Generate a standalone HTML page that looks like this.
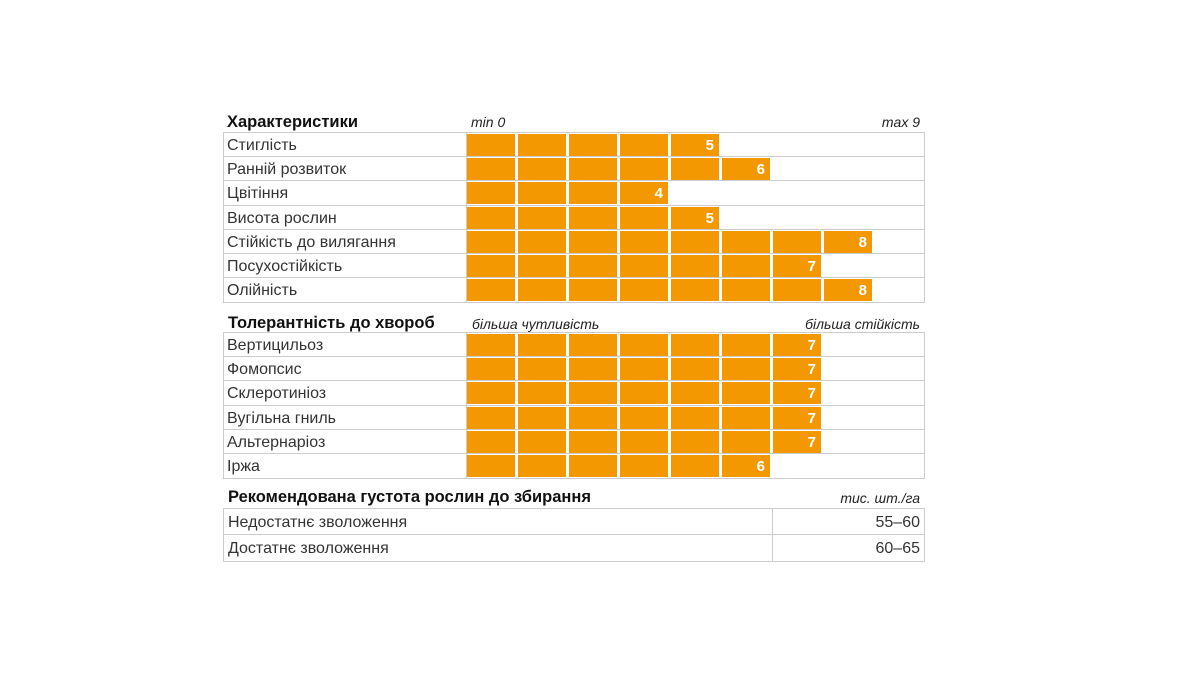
<!DOCTYPE html><html><head><meta charset="utf-8"><style>
body{margin:0;width:1200px;height:675px;background:#fff;position:relative;font-family:"Liberation Sans",sans-serif;overflow:hidden}
.a{position:absolute}
.h{font-weight:bold;font-size:16.5px;color:#111}
.i{font-style:italic;font-size:14px;color:#222}
.box{position:absolute;left:223px;width:702px;border:1px solid #ccc;box-sizing:border-box}
.r{position:relative;height:24.2px;border-bottom:1px solid #ccc;box-sizing:border-box;font-size:16px;color:#333;line-height:26px;padding-left:3px}
.r:last-child{border-bottom:none}
.lab{width:240px;height:24px;border-right:1px solid #ccc;box-sizing:border-box}
.bars{position:absolute;left:243px;top:1px;height:22px;display:flex;gap:3px}
.bars i{display:block;width:48px;height:22px;background:#f39800;position:relative}
.bars i:last-child b{position:absolute;right:5px;top:1px;line-height:22px;color:#fff;font-weight:bold;font-style:normal;font-size:15px}
.t{position:absolute;left:223px;width:702px;border:1px solid #ccc;box-sizing:border-box}
.t div{height:26px;line-height:28px;font-size:16px;color:#333;padding-left:4px;position:relative;border-bottom:1px solid #ccc;box-sizing:border-box}
.t div:last-child{border-bottom:none}
.t span{position:absolute;left:548px;top:0;bottom:0;right:0;border-left:1px solid #ccc;text-align:right;padding-right:4px}
.rt{position:absolute;right:280px;text-align:right}
</style></head><body>
<div class="a h" style="left:227px;top:113px">Характеристики</div>
<div class="a i" style="left:471px;top:114px">min 0</div>
<div class="rt i" style="top:114px">max 9</div>
<div class="box" style="top:132px">
<div class="r"><div class="lab">Стиглість</div><div class="bars"><i></i><i></i><i></i><i></i><i><b>5</b></i></div></div>
<div class="r"><div class="lab">Ранній розвиток</div><div class="bars"><i></i><i></i><i></i><i></i><i></i><i><b>6</b></i></div></div>
<div class="r"><div class="lab">Цвітіння</div><div class="bars"><i></i><i></i><i></i><i><b>4</b></i></div></div>
<div class="r"><div class="lab">Висота рослин</div><div class="bars"><i></i><i></i><i></i><i></i><i><b>5</b></i></div></div>
<div class="r"><div class="lab">Стійкість до вилягання</div><div class="bars"><i></i><i></i><i></i><i></i><i></i><i></i><i></i><i><b>8</b></i></div></div>
<div class="r"><div class="lab">Посухостійкість</div><div class="bars"><i></i><i></i><i></i><i></i><i></i><i></i><i><b>7</b></i></div></div>
<div class="r"><div class="lab">Олійність</div><div class="bars"><i></i><i></i><i></i><i></i><i></i><i></i><i></i><i><b>8</b></i></div></div>
</div>
<div class="a h" style="left:228px;top:314px">Толерантність до хвороб</div>
<div class="a i" style="left:472px;top:316px">більша чутливість</div>
<div class="rt i" style="top:316px">більша стійкість</div>
<div class="box" style="top:332px">
<div class="r"><div class="lab">Вертицильоз</div><div class="bars"><i></i><i></i><i></i><i></i><i></i><i></i><i><b>7</b></i></div></div>
<div class="r"><div class="lab">Фомопсис</div><div class="bars"><i></i><i></i><i></i><i></i><i></i><i></i><i><b>7</b></i></div></div>
<div class="r"><div class="lab">Склеротиніоз</div><div class="bars"><i></i><i></i><i></i><i></i><i></i><i></i><i><b>7</b></i></div></div>
<div class="r"><div class="lab">Вугільна гниль</div><div class="bars"><i></i><i></i><i></i><i></i><i></i><i></i><i><b>7</b></i></div></div>
<div class="r"><div class="lab">Альтернаріоз</div><div class="bars"><i></i><i></i><i></i><i></i><i></i><i></i><i><b>7</b></i></div></div>
<div class="r"><div class="lab">Іржа</div><div class="bars"><i></i><i></i><i></i><i></i><i></i><i><b>6</b></i></div></div>
</div>
<div class="a h" style="left:228px;top:488px">Рекомендована густота рослин до збирання</div>
<div class="rt i" style="top:490px">тис. шт./га</div>
<div class="t" style="top:508px">
<div>Недостатнє зволоження<span>55–60</span></div>
<div>Достатнє зволоження<span>60–65</span></div>
</div>
</body></html>
